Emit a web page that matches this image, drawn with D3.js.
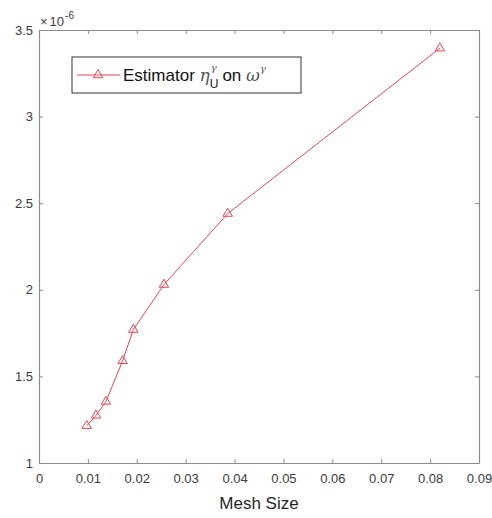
<!DOCTYPE html>
<html><head><meta charset="utf-8">
<script src="https://cdn.jsdelivr.net/npm/d3@7"></script>
<style>body{margin:0;background:#fff}svg{display:block}text{font-family:"Liberation Sans",Arial,sans-serif}</style>
</head><body><svg id="c" width="492" height="518"></svg>
<script>
const meshSize = [0.00975, 0.01166, 0.0137, 0.0171, 0.0193, 0.02556, 0.0386, 0.0820];
const estimator = [1.215, 1.275, 1.355, 1.59, 1.77, 2.03, 2.44, 3.395];
const xTicks = [0,0.01,0.02,0.03,0.04,0.05,0.06,0.07,0.08,0.09];
const yTicks = [1,1.5,2,2.5,3,3.5];
const xLabel = "Mesh Size";

const svg = d3.select("#c");
const L=39,R=479,T=30,B=463;
const x = d3.scaleLinear().domain([0,0.09]).range([L,R]);
const y = d3.scaleLinear().domain([1,3.5]).range([B,T]);
const axisCol="#8c8c8c", textCol="#3a3a3a";
const red="#e8454f";

// axes
const gx = svg.append("g").attr("transform",`translate(0,${B})`)
  .call(d3.axisBottom(x).tickValues(xTicks).tickSizeInner(-4).tickSizeOuter(0).tickPadding(11).tickFormat(d=>d3.format("")(+d.toFixed(2))));
const gy = svg.append("g").attr("transform",`translate(${L},0)`)
  .call(d3.axisLeft(y).tickValues(yTicks).tickSizeInner(-4).tickSizeOuter(0).tickPadding(6).tickFormat(d=>d3.format("")(d)));
const gxt = svg.append("g").attr("transform",`translate(0,${T})`)
  .call(d3.axisTop(x).tickValues(xTicks).tickSizeInner(-4).tickSizeOuter(0).tickFormat(""));
const gyr = svg.append("g").attr("transform",`translate(${R},0)`)
  .call(d3.axisRight(y).tickValues(yTicks).tickSizeInner(-4).tickSizeOuter(0).tickFormat(""));
[gx,gy,gxt,gyr].forEach(g=>{
  g.selectAll("path.domain").attr("stroke",axisCol).attr("stroke-width",1.2);
  g.selectAll(".tick line").attr("stroke",axisCol);
  g.selectAll(".tick text").attr("fill",textCol).attr("font-size",13).attr("font-family","Liberation Sans, Arial, sans-serif");
});

// exponent
const ex = svg.append("text").attr("x",40).attr("y",26).attr("fill",textCol).attr("font-size",13);
ex.append("tspan").text("×");
ex.append("tspan").attr("dx",2).text("10");
ex.append("tspan").attr("dy",-7).attr("dx",1).attr("font-size",10).text("-6");

// x label
svg.append("text").attr("x",(L+R)/2).attr("y",509).attr("text-anchor","middle")
  .attr("fill","#262626").attr("font-size",17).text(xLabel);

// line
const line = d3.line().x((d,i)=>x(meshSize[i])).y(d=>y(d));
svg.append("path").datum(estimator).attr("d",line).attr("fill","none").attr("stroke",red).attr("stroke-width",1);
const tri = d3.symbol().type(d3.symbolTriangle).size(38);
svg.selectAll(".m").data(estimator).join("path")
  .attr("transform",(d,i)=>`translate(${x(meshSize[i])},${y(d)})`)
  .attr("d",tri).attr("fill","none").attr("stroke",red).attr("stroke-width",1);

// legend
const lg = svg.append("g");
lg.append("rect").attr("x",72).attr("y",57).attr("width",229).attr("height",36)
  .attr("fill","#fff").attr("stroke","#333").attr("stroke-width",1);
lg.append("line").attr("x1",77).attr("x2",120).attr("y1",75).attr("y2",75).attr("stroke",red);
lg.append("path").attr("transform","translate(98,75)").attr("d",tri).attr("fill","none").attr("stroke",red);
const t = lg.append("text").attr("x",123).attr("y",81).attr("font-size",17).attr("fill","#111");
t.append("tspan").text("Estimator ");
t.append("tspan").attr("font-family","DejaVu Serif, serif").attr("font-style","italic").attr("fill","#555").text("η");
t.append("tspan").attr("dy",-10).attr("dx",1).attr("font-size",10).attr("font-family","DejaVu Serif, serif").attr("font-style","italic").attr("fill","#555").text("γ");
t.append("tspan").attr("dy",17).attr("dx",-7).attr("font-size",12).text("U");
t.append("tspan").attr("dy",-7).attr("dx",4).text("on ");
t.append("tspan").attr("font-family","DejaVu Serif, serif").attr("font-style","italic").attr("fill","#555").text("ω");
t.append("tspan").attr("dy",-9).attr("font-size",10).attr("font-family","DejaVu Serif, serif").attr("font-style","italic").attr("fill","#555").text("γ");
</script></body></html>
